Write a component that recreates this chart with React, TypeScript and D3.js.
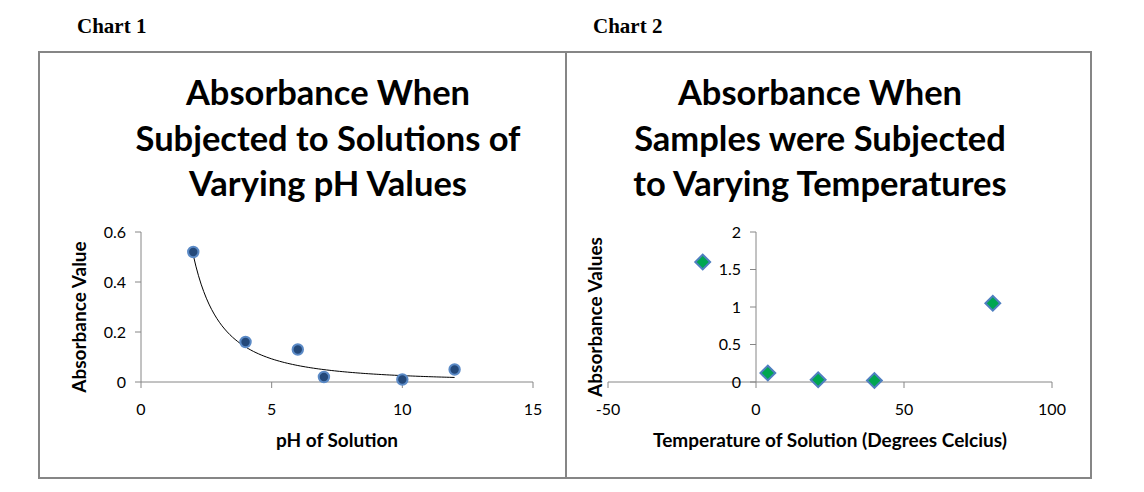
import { useEffect, useRef } from 'react';
import * as d3 from 'd3';

// Chart 1: absorbance vs pH
const phValues = [2, 4, 6, 7, 10, 12];
const phAbsorbance = [0.52, 0.16, 0.13, 0.02, 0.01, 0.05];
const phXTicks = [0, 5, 10, 15];
const phYTicks = [0, 0.2, 0.4, 0.6];

// Chart 2: absorbance vs temperature
const tempValues = [-18, 4, 21, 40, 80];
const tempAbsorbance = [1.6, 0.12, 0.03, 0.02, 1.05];
const tempXTicks = [-50, 0, 50, 100];
const tempYTicks = [0, 0.5, 1, 1.5, 2];

const title1 = ['Absorbance When', 'Subjected to Solutions of', 'Varying pH Values'];
const title2 = ['Absorbance When', 'Samples were Subjected', 'to Varying Temperatures'];

const FONT = 'Lato, "Open Sans", sans-serif';
const AXIS = '#868686';

// power trendline y = a * x^b, least squares on logs (like Excel)
function powerFit(xs, ys) {
  const lx = xs.map(Math.log);
  const ly = ys.map(Math.log);
  const mx = d3.mean(lx);
  const my = d3.mean(ly);
  const b = d3.sum(lx, (v, i) => (v - mx) * (ly[i] - my)) / d3.sum(lx, v => (v - mx) ** 2);
  const a = Math.exp(my - b * mx);
  return x => a * Math.pow(x, b);
}

const App = () => {
  const svgRef = useRef(null);

  useEffect(() => {
    const svg = d3.select(svgRef.current);
    svg.selectAll('*').remove();

    const width = 1144;
    const height = 492;
    svg.attr('width', width).attr('height', height);

    // outer frame + divider
    svg.append('rect')
      .attr('x', 39).attr('y', 52).attr('width', 1052).attr('height', 426)
      .attr('fill', 'none').attr('stroke', AXIS).attr('stroke-width', 2);
    svg.append('line')
      .attr('x1', 566).attr('x2', 566).attr('y1', 52).attr('y2', 478)
      .attr('stroke', AXIS).attr('stroke-width', 2);

    svg.append('text').attr('x', 77).attr('y', 33).text('Chart 1')
      .attr('font-family', '"Liberation Serif", serif').attr('font-weight', 'bold').attr('font-size', 21);
    svg.append('text').attr('x', 593).attr('y', 33).text('Chart 2')
      .attr('font-family', '"Liberation Serif", serif').attr('font-weight', 'bold').attr('font-size', 21);

    const drawTitle = (lines, cx) => {
      const t = svg.append('text')
        .attr('text-anchor', 'middle')
        .attr('font-family', FONT).attr('font-weight', 'bold').attr('font-size', 34.5);
      lines.forEach((l, i) => {
        t.append('tspan').attr('x', cx).attr('y', 105 + i * 45.5).text(l);
      });
    };
    drawTitle(title1, 328);
    drawTitle(title2, 820);

    const drawAxes = (x, y, xTicks, yTicks, yAxisAt, xTitle, yTitle, yTitleX) => {
      const g = svg.append('g');
      const x0 = x(yAxisAt);
      const y0 = y(0);
      // x axis
      g.append('line')
        .attr('x1', x.range()[0]).attr('x2', x.range()[1]).attr('y1', y0).attr('y2', y0)
        .attr('stroke', AXIS);
      g.selectAll('.xt').data(xTicks).enter().append('line')
        .attr('x1', d => x(d)).attr('x2', d => x(d)).attr('y1', y0).attr('y2', y0 + 6)
        .attr('stroke', AXIS);
      g.selectAll('.xl').data(xTicks).enter().append('text')
        .attr('x', d => x(d)).attr('y', y0 + 33)
        .attr('text-anchor', 'middle')
        .attr('font-family', FONT).attr('font-size', 16)
        .text(d => String(d));
      // y axis
      g.append('line')
        .attr('x1', x0).attr('x2', x0).attr('y1', y.range()[0]).attr('y2', y.range()[1])
        .attr('stroke', AXIS);
      g.selectAll('.yt').data(yTicks).enter().append('line')
        .attr('x1', x0 - 6).attr('x2', x0).attr('y1', d => y(d)).attr('y2', d => y(d))
        .attr('stroke', AXIS);
      g.selectAll('.yl').data(yTicks).enter().append('text')
        .attr('x', x0 - 15).attr('y', d => y(d) + 5.5)
        .attr('text-anchor', 'end')
        .attr('font-family', FONT).attr('font-size', 16)
        .text(d => String(d));
      // titles
      const [r0, r1] = x.range();
      g.append('text')
        .attr('x', (r0 + r1) / 2).attr('y', 447)
        .attr('text-anchor', 'middle')
        .attr('font-family', FONT).attr('font-weight', 'bold').attr('font-size', 19)
        .text(xTitle);
      g.append('text')
        .attr('transform', `translate(${yTitleX},${(y.range()[0] + y.range()[1]) / 2 + 10}) rotate(-90)`)
        .attr('text-anchor', 'middle')
        .attr('font-family', FONT).attr('font-weight', 'bold').attr('font-size', 19)
        .text(yTitle);
    };

    // ---- Chart 1
    const x1 = d3.scaleLinear().domain([0, 15]).range([141, 533]);
    const y1 = d3.scaleLinear().domain([0, 0.6]).range([382, 232]);
    drawAxes(x1, y1, phXTicks, phYTicks, 0, 'pH of Solution', 'Absorbance Value', 86);

    const fit = powerFit(phValues, phAbsorbance);
    const [xmin, xmax] = d3.extent(phValues);
    const samples = d3.range(0, 101).map(i => xmin + (xmax - xmin) * i / 100);
    svg.append('path')
      .datum(samples)
      .attr('d', d3.line().x(d => x1(d)).y(d => y1(fit(d))))
      .attr('fill', 'none').attr('stroke', '#000').attr('stroke-width', 1);

    svg.selectAll('.pt1').data(phValues).enter().append('circle')
      .attr('cx', d => x1(d)).attr('cy', (d, i) => y1(phAbsorbance[i]))
      .attr('r', 5.2)
      .attr('fill', '#24497a').attr('stroke', '#5b8ac6').attr('stroke-width', 2);

    // ---- Chart 2
    const x2 = d3.scaleLinear().domain([-50, 100]).range([608, 1052]);
    const y2 = d3.scaleLinear().domain([0, 2]).range([382, 232]);
    drawAxes(x2, y2, tempXTicks, tempYTicks, 0, 'Temperature of Solution (Degrees Celcius)', 'Absorbance Values', 602);

    const diamond = d3.symbol().type(d3.symbolSquare).size(110);
    svg.selectAll('.pt2').data(tempValues).enter().append('path')
      .attr('d', diamond)
      .attr('transform', (d, i) => `translate(${x2(d)},${y2(tempAbsorbance[i])}) rotate(45)`)
      .attr('fill', '#00a650').attr('stroke', '#4f7fc0').attr('stroke-width', 2);
  }, []);

  return (
    <svg ref={svgRef} style={{ position: 'absolute', left: 0, top: 0 }}></svg>
  );
};

export default App;
